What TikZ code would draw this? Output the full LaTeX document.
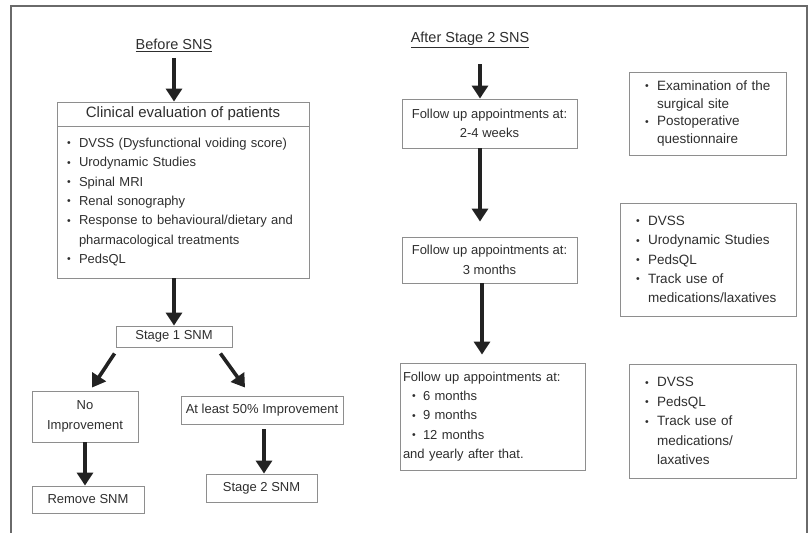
\documentclass[tikz,border=0pt]{standalone}
\usepackage{fontspec}
\setmainfont{Liberation Sans}
\usepackage{xcolor}
\usetikzlibrary{arrows.meta}
\definecolor{boxline}{HTML}{8E8E8E}
\definecolor{txtcol}{HTML}{2E2E2E}
\definecolor{arrcol}{HTML}{222222}
\definecolor{framecol}{HTML}{6A6A6A}
\newcommand{\dotmark}{\raisebox{0.6pt}{\fontsize{10.5}{10.5}\selectfont\textbullet}}
\newcommand{\bul}{\makebox[12pt][l]{\dotmark}}
\newcommand{\cont}{\hspace*{12pt}}
\newcommand{\subbul}{\hspace*{9pt}\makebox[11pt][l]{\dotmark}}

\begin{document}
\begin{tikzpicture}[x=1pt,y=-1pt,
  every node/.style={font=\fontsize{13}{19.3}\selectfont,text=txtcol},
  box/.style={draw=boxline,line width=0.9pt,inner sep=0pt,align=center},
  listbox/.style={box,align=left},
  heading/.style={font=\fontsize{14.5}{17}\selectfont},
  bigarrow/.style={arrcol,line width=3.6pt,-{Triangle[width=16pt,length=13pt]}}]
  \useasboundingbox (0,0) rectangle (812,533);
  \draw[framecol,line width=1.4pt] (11,533) -- (11,6) -- (807,6) -- (807,533);

  % before SNS
  \node[heading] (before) at (174,45) {\underline{Before SNS}};
  \node[box,minimum width=252pt,minimum height=24pt,
    font=\fontsize{15}{18}\selectfont] (clinhead) at (183,114)
    {Clinical evaluation of patients};
  \node[listbox,minimum width=252pt,minimum height=152pt,text width=232pt,
    inner xsep=10pt] (clinbody) at (183,202)
    {\bul DVSS (Dysfunctional voiding score)\\
     \bul Urodynamic Studies\\
     \bul Spinal MRI\\
     \bul Renal sonography\\
     \bul Response to behavioural/dietary and\\
     \cont pharmacological treatments\\
     \bul PedsQL};
  \node[box,minimum width=116pt,minimum height=21pt] (stage1) at (174,336.5) {Stage 1 SNM};
  \node[box,minimum width=106pt,minimum height=51pt] (noimp) at (85,416.5) {No\\Improvement};
  \node[box,minimum width=112pt,minimum height=27pt] (remove) at (88,499.5) {Remove SNM};
  \node[box,minimum width=162pt,minimum height=28pt] (least) at (262,410) {At least 50\% Improvement};
  \node[box,minimum width=111pt,minimum height=28pt] (stage2) at (261.5,488) {Stage 2 SNM};

  \draw[bigarrow] ([yshift=-3pt]before.south) -- (before.south |- clinhead.north);
  \draw[bigarrow] (stage1.north |- clinbody.south) -- (stage1.north);
  \draw[bigarrow] ([xshift=-1pt,yshift=-6pt]stage1.south west) -- ([xshift=7pt,yshift=3pt]noimp.north);
  \draw[bigarrow] ([xshift=-12pt,yshift=-6pt]stage1.south east) -- ([xshift=-17pt,yshift=8pt]least.north);
  \draw[bigarrow] (noimp.south) -- (noimp.south |- remove.north);
  \draw[bigarrow,shorten <=5pt] ([xshift=2pt]least.south) -- ([xshift=2pt]least.south |- stage2.north);

  % after stage 2 SNS
  \node[heading] (after) at (470,40) {\underline{After Stage 2 SNS}};
  \node[box,minimum width=175pt,minimum height=49pt] (fu1) at (489.5,123.5)
    {Follow up appointments at:\\2-4 weeks};
  \node[box,minimum width=175pt,minimum height=46pt] (fu2) at (489.5,260)
    {Follow up appointments at:\\3 months};
  \node[listbox,minimum width=185pt,minimum height=107pt,text width=179pt,
    inner xsep=3pt] (fu3) at (492.5,416.5)
    {Follow up appointments at:\\
     \subbul 6 months\\
     \subbul 9 months\\
     \subbul 12 months\\
     and yearly after that.};

  \draw[bigarrow,shorten <=13pt] ([xshift=10pt]after.south) -- ([xshift=10pt]after.south |- fu1.north);
  \draw[bigarrow,shorten >=15pt] ([xshift=-9.5pt]fu1.south) -- ([xshift=-9.5pt]fu2.north);
  \draw[bigarrow,shorten >=8pt] ([xshift=-7.5pt]fu2.south) -- ([xshift=-10.5pt]fu3.north);

  % checks at each visit
  \node[listbox,minimum width=157pt,minimum height=83pt,text width=131pt,
    inner xsep=13pt,font=\fontsize{13.5}{17.7}\selectfont] (checka) at (707.5,113.5)
    {\hspace*{3pt}\bul Examination of the\\
     \hspace*{3pt}\cont surgical site\\
     \hspace*{3pt}\bul Postoperative\\
     \hspace*{3pt}\cont questionnaire};
  \node[listbox,minimum width=176pt,minimum height=113pt,text width=144pt,
    inner xsep=16pt,font=\fontsize{13.5}{19.4}\selectfont] (checkb) at (708,259.5)
    {\bul DVSS\\
     \bul Urodynamic Studies\\
     \bul PedsQL\\
     \bul Track use of\\
     \cont medications/laxatives};
  \node[listbox,minimum width=167pt,minimum height=114pt,text width=135pt,
    inner xsep=16pt,font=\fontsize{13.5}{19.4}\selectfont] (checkc) at (712.5,421)
    {\bul DVSS\\
     \bul PedsQL\\
     \bul Track use of\\
     \cont medications/\\
     \cont laxatives};
\end{tikzpicture}
\end{document}
